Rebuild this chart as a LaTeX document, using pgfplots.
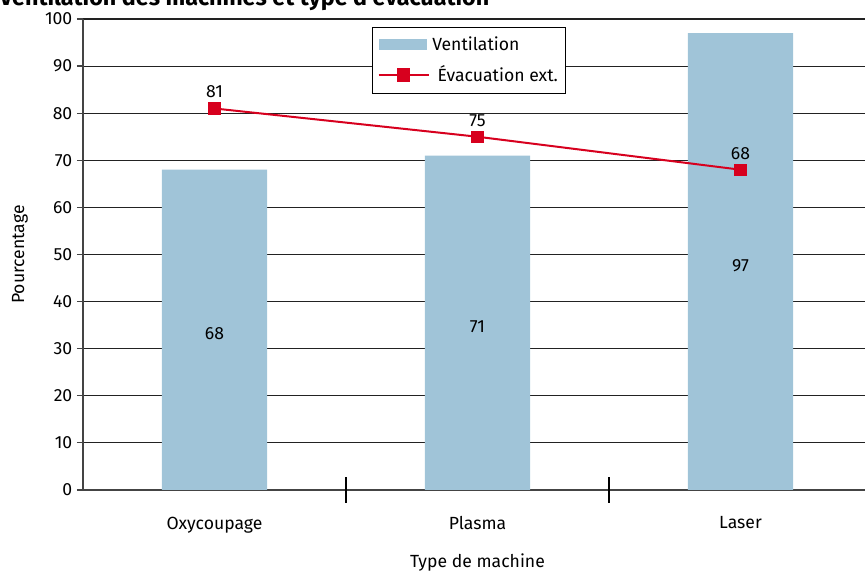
\documentclass[border=0pt]{standalone}
\usepackage{pgfplots}
\pgfplotsset{compat=1.18}
\usepackage{fontspec}
\setmainfont{Fira Sans}
\definecolor{barblue}{HTML}{A0C4D8}
\definecolor{evred}{HTML}{D7001E}
\definecolor{gridc}{HTML}{222222}
\definecolor{axisc}{HTML}{444444}
\begin{document}
\begin{tikzpicture}
\path[use as bounding box] (-62.25pt,-62.25pt) rectangle (586.5pt,367.5pt);
\clip (-62.25pt,-62.25pt) rectangle (586.5pt,367.5pt);
\begin{axis}[
    at={(0pt,0pt)}, anchor=south west,
    scale only axis, width=591.75pt, height=353.25pt,
    font=\fontsize{13.2}{15}\selectfont,
    /pgf/number format/assume math mode=true,
    xmin=-0.5, xmax=2.5, ymin=0, ymax=100,
    axis x line*=bottom, axis y line*=left,
    axis line style={draw=axisc, line width=1.1pt},
    ytick={0,10,...,100},
    ymajorgrids, grid style={draw=gridc, line width=0.8pt},
    tick align=outside, major tick length=4.5pt,
    ytick style={draw=axisc, line width=0.9pt},
    xtick={0,1,2}, xticklabels={Oxycoupage,Plasma,Laser},
    xtick style={draw=none},
    xticklabel style={yshift=-12pt},
    extra x ticks={0.5,1.5}, extra x tick labels={},
    extra x tick style={xtick style={draw=black, line width=0.9pt}, major tick length=19.5pt, tick align=center},
    xlabel={Type de machine},
    xlabel style={at={(axis description cs:0.5,-0.155)}, anchor=center},
    ylabel={Pourcentage},
    ylabel style={at={(axis description cs:-0.08,0.5)}, anchor=center},
    legend cell align=left,
    legend style={at={(rel axis cs:0.366,0.983)}, anchor=north west,
        draw=black, line width=0.8pt, font=\fontsize{13.2}{15}\selectfont,
        inner xsep=4pt, inner ysep=5pt, row sep=6pt},
]
\addplot[ybar, bar width=0.4, fill=barblue, draw=none,
    nodes near coords,
    visualization depends on={y \as \rawy},
    every node near coord/.append style={shift={(axis direction cs:0,-\rawy/2)}, anchor=center, yshift=-3pt, text=black},
    legend image code/.code={\fill[barblue] (0pt,-4.1pt) rectangle (36pt,4.1pt);}]
  coordinates {(0,68) (1,71) (2,97)};
\addlegendentry{Ventilation}
\addplot[evred, line width=1.5pt, mark=square*, mark size=4.2pt,
    mark options={fill=evred, draw=evred, line width=0pt},
    nodes near coords,
    every node near coord/.append style={anchor=south, yshift=4.5pt, text=black},
    legend image code/.code={
      \draw[evred, line width=1.5pt] (0pt,0pt) -- (37.5pt,0pt);
      \fill[evred] (14.5pt,-4.2pt) rectangle (23pt,4.2pt);}]
  coordinates {(0,81) (1,75) (2,68)};
\addlegendentry{\hspace{4pt}Évacuation ext.}
\end{axis}
\node[anchor=base east, font=\bfseries\fontsize{17.5}{20}\selectfont] at (308.25pt,363pt) {Ventilation des machines et type d’évacuation};
\end{tikzpicture}
\end{document}
